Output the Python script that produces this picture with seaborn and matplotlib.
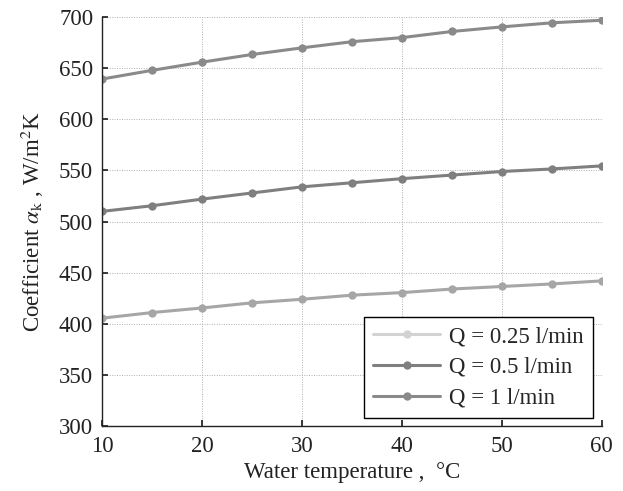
import matplotlib
matplotlib.use("Agg")
import matplotlib.pyplot as plt
import seaborn as sns
import pandas as pd

temps = [10, 15, 20, 25, 30, 35, 40, 45, 50, 55, 60]
q025 = [405.5, 411, 415.5, 420.5, 424, 428, 430.5, 434, 436.5, 439, 442]
q05 = [510, 515.5, 522, 528, 534, 538, 542, 545.5, 549, 551.5, 554.5]
q1 = [639.5, 648, 656, 663.5, 670, 676, 680, 686, 690.5, 694.5, 697]
labels = ["Q = 0.25 l/min", "Q = 0.5 l/min", "Q = 1 l/min"]
colors = ["#a6a6a6", "#7f7f7f", "#8a8a8a"]

df = pd.concat([
    pd.DataFrame({"T": temps, "alpha": vals, "Q": lab})
    for vals, lab in zip([q025, q05, q1], labels)
])

sns.set_theme(style="white")
plt.rcParams["font.family"] = ["Liberation Serif", "DejaVu Serif"]
plt.rcParams["mathtext.fontset"] = "stix"

fig = plt.figure(figsize=(6.23, 4.91), dpi=100)
ax = fig.add_axes([0.164, 0.1324, 0.802, 0.8326])

sns.lineplot(data=df, x="T", y="alpha", hue="Q", palette=colors,
             marker="o", markersize=6, markeredgewidth=0, linewidth=2.2, ax=ax)

fs = 16.5
ax.set_xlim(10, 60)
ax.set_ylim(300, 700)
ax.set_xticks(range(10, 61, 10))
ax.set_yticks(range(300, 701, 50))
ax.grid(True, linestyle=(0, (1, 1.5)), color="#b0b0b0", linewidth=0.7)
for s in ["top", "right"]:
    ax.spines[s].set_visible(False)
for s in ["left", "bottom"]:
    ax.spines[s].set_color("#222222")
    ax.spines[s].set_linewidth(1.0)
ax.tick_params(axis="both", direction="in", length=4, labelsize=fs,
               colors="#222222", left=True, bottom=True)
ax.tick_params(axis="x", pad=7.5)
ax.tick_params(axis="y", pad=6.5)

ax.set_xlabel("Water temperature ,  °C", fontsize=fs, color="#222222", labelpad=3)
ax.set_ylabel(r"Coefficient $\alpha_{\mathrm{k}}$ , W/m$^2$K", fontsize=fs,
              color="#222222", labelpad=9)

leg = ax.legend(loc="lower right", bbox_to_anchor=(0.982, 0.02), borderaxespad=0,
                fontsize=fs, frameon=True, fancybox=False, edgecolor="black",
                framealpha=1, handlelength=2.9, borderpad=0.4, labelspacing=0.42,
                handletextpad=0.4)
leg.get_frame().set_linewidth(1.0)
leg.get_lines()[0].set_color("#d2d2d2")

fig.savefig("out.png", dpi=100)
